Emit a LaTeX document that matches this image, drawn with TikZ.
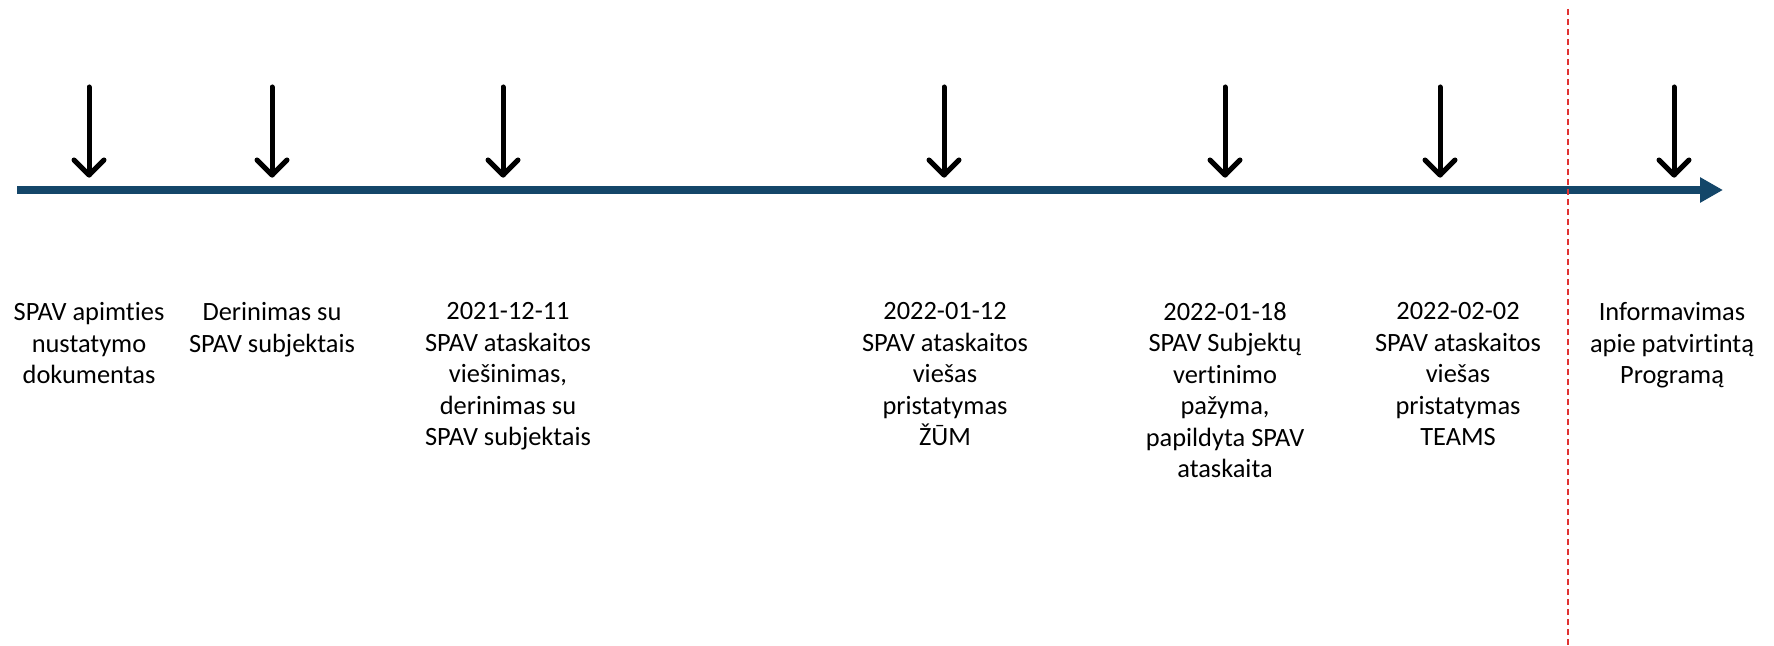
\documentclass[tikz,border=0pt]{standalone}
\usepackage{fontspec}
\setmainfont{Carlito}[Ligatures=NoCommon]
\usetikzlibrary{arrows.meta}
\definecolor{tlblue}{RGB}{20,70,105}
\definecolor{dashred}{RGB}{225,50,50}
\begin{document}
\begin{tikzpicture}[x=0.5pt,y=-0.5pt,
  lbl/.style={font=\fontsize{13.2pt}{15.75pt}\selectfont, align=center, anchor=north, inner sep=0pt,
    execute at begin node={\rule{0pt}{10pt}}},
  downarr/.style={line width=2.5pt, line cap=round, line join=round, draw=black},
  timeline/.style={line width=4pt, draw=tlblue, -{Triangle[length=11.5pt,width=12pt]}},
  divider/.style={line width=1pt, draw=dashred, dash pattern=on 3pt off 2pt}]
\useasboundingbox (0,0) rectangle (1774,646);
% timeline
\coordinate (tlstart) at (17,190);
\coordinate (tlend) at (1723,190);
\draw[timeline] (tlstart) -- (tlend);
% down arrows
\foreach \n/\x in {1/89,2/272,3/503,4/944,5/1225,6/1440,7/1674}{
  \coordinate (a\n top) at (\x,87);
  \coordinate (a\n tip) at (\x,175);
  \coordinate (a\n l) at (\x-15,160);
  \coordinate (a\n r) at (\x+15,160);
  \draw[downarr] (a\n top) -- (a\n tip);
  \draw[downarr] (a\n l) -- (a\n tip) -- (a\n r);
}
% divider
\coordinate (dtop) at (1568,9);
\coordinate (dbot) at (1568,646);
\draw[divider] (dtop) -- (dbot);
% labels (first baseline at y = 322)
\node[lbl] (t1) at (89,302) {SPAV apimties\\nustatymo\\dokumentas};
\node[lbl] (t2) at (272,302) {Derinimas su\\SPAV subjektais};
\node[lbl] (t3) at (508,302) {2021-12-11\\SPAV ataskaitos\\viešinimas,\\derinimas su\\SPAV subjektais};
\node[lbl] (t4) at (945,302) {2022-01-12\\SPAV ataskaitos\\viešas\\pristatymas\\ŽŪM};
\node[lbl] (t5) at (1225,302) {2022-01-18\\SPAV Subjektų\\vertinimo\\pažyma,\\papildyta SPAV\\ataskaita};
\node[lbl] (t6) at (1458,302) {2022-02-02\\SPAV ataskaitos\\viešas\\pristatymas\\TEAMS};
\node[lbl] (t7) at (1672,302) {Informavimas\\apie patvirtintą\\Programą};
\end{tikzpicture}
\end{document}
